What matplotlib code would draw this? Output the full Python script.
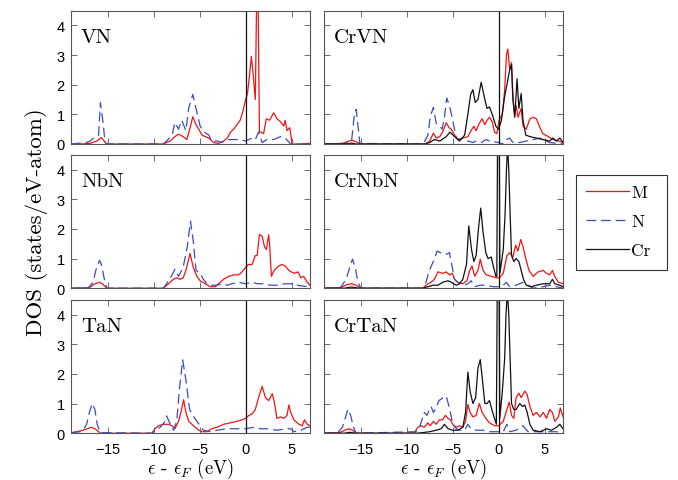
import matplotlib
matplotlib.use("Agg")
import matplotlib.pyplot as plt
from matplotlib.patches import Rectangle

plt.rcParams['lines.scale_dashes'] = False
plt.rcParams['mathtext.fontset'] = 'cm'
plt.rcParams['axes.formatter.use_mathtext'] = True

# ---------------- data (energy in eV, DOS in states/eV-atom) ----------------
vn_m_e = [-19, -18, -16.9, -16.2, -15.7, -15.4, -15.1, -9.0, -8.2, -7.7, -7.3, -6.8, -6.4, -6.0, -5.75, -5.4, -5.1,
          -4.75, -4.4, -4.0, -3.5, -2.95, -2.4, -2.0, -1.65, -1.3, -0.95, -0.6, -0.3, 0.0, 0.2, 0.45, 0.62, 0.8, 1.05,
          1.2, 1.35, 1.5, 1.65, 1.95, 2.25, 2.6, 3.05, 3.4, 3.8, 4.15, 4.3, 4.5, 4.8, 5.05, 6.0, 6.9, 7.0]
vn_m = [0, 0, 0.02, 0.1, 0.22, 0.1, 0, 0, 0.1, 0.25, 0.33, 0.25, 0.15, 0.6, 0.92, 0.65, 0.5,
        0.3, 0.25, 0.2, 0.05, 0.02, 0.1, 0.2, 0.4, 0.5, 0.65, 0.8, 1.1, 1.5, 1.7, 2.4, 2.95, 2.4, 1.5,
        5.0, 5.0, 0.4, 0.4, 0.35, 0.85, 0.8, 1.05, 0.85, 0.75, 0.6, 0.8, 0.45, 0.55, 0.0, 0.0, 0.02, 0.02]

vn_n_e = [-19, -17.3, -16.9, -16.4, -16.0, -15.8, -15.5, -15.3, -15.1, -8.95, -8.6, -8.0, -7.7, -7.3, -6.95, -6.5,
          -6.2, -5.75, -5.4, -4.95, -4.5, -4.0, -3.7, -3.1, -2.6, -2.0, -1.3, -0.6, 0.0, 0.7, 1.05, 1.4, 1.8, 2.3,
          3.05, 3.8, 4.3, 4.9, 7.0]
vn_n = [0, 0.05, 0.1, 0.25, 0.3, 1.39, 0.7, 0.05, 0, 0, 0.1, 0.3, 0.72, 0.5, 0.8, 0.45,
        1.2, 1.67, 1.2, 0.6, 0.4, 0.3, 0.1, 0.1, 0.05, 0.15, 0.15, 0.15, 0.1, 0.2, 0.15, 0.4, 0.05, 0.15,
        0.15, 0.25, 0.2, 0.0, 0.0]

nbn_m_e = [-19, -17.0, -16.4, -15.9, -15.6, -15.1, -8.95, -8.4, -7.85, -7.5, -7.1, -6.8, -6.5, -6.05, -5.7, -5.3,
           -4.95, -4.4, -3.85, -3.3, -2.95, -2.4, -1.85, -1.3, -0.75, -0.4, 0.0, 0.3, 0.7, 1.05, 1.25, 1.5, 1.8,
           2.05, 2.25, 2.5, 2.6, 2.8, 3.1, 3.6, 3.95, 4.3, 4.7, 5.25, 5.7, 6.0, 6.3, 6.7, 7.0]
nbn_m = [0, 0.02, 0.15, 0.2, 0.15, 0, 0, 0.15, 0.3, 0.35, 0.3, 0.35, 0.6, 1.17, 0.7, 0.4,
         0.25, 0.15, 0.05, 0.05, 0.15, 0.3, 0.4, 0.45, 0.45, 0.55, 0.7, 0.8, 0.8, 1.1, 1.1, 1.81, 1.75,
         1.4, 1.3, 1.8, 1.5, 0.4, 0.6, 0.75, 0.8, 0.75, 0.6, 0.5, 0.55, 0.35, 0.4, 0.2, 0.1]

nbn_n_e = [-19, -17.1, -16.6, -16.3, -15.9, -15.7, -15.3, -15.1, -8.95, -8.6, -8.0, -7.7, -7.3, -6.8, -6.35, -6.0,
           -5.7, -5.4, -4.95, -4.6, -4.2, -3.7, -3.1, -2.6, -2.0, -1.5, -0.75, 0.0, 0.7, 1.25, 1.95, 2.7, 3.6,
           4.3, 4.9, 5.6, 6.7, 7.0]
nbn_n = [0, 0.02, 0.2, 0.6, 0.94, 0.8, 0.2, 0, 0, 0.15, 0.45, 0.64, 0.4, 0.7, 1.4, 2.26,
         1.6, 0.6, 0.5, 0.3, 0.15, 0.1, 0.1, 0.15, 0.1, 0.15, 0.2, 0.15, 0.2, 0.15, 0.15, 0.1, 0.1,
         0.15, 0.15, 0.1, 0.05, 0.05]

tan_m_e = [-19, -18.8, -17.7, -16.8, -16.4, -16.0, -15.8, -10.2, -9.85, -9.5, -8.95, -8.4, -8.0, -7.7, -7.3, -7.05,
           -6.75, -6.5, -6.2, -5.85, -5.5, -5.1, -4.75, -4.2, -3.7, -3.1, -2.4, -1.65, -0.95, -0.4, 0.0, 0.35,
           0.7, 1.05, 1.4, 1.8, 2.15, 2.5, 2.9, 3.15, 3.4, 3.8, 4.15, 4.5, 4.7, 4.9, 5.25, 5.8, 6.15, 6.4, 6.7, 7.0]
tan_m = [0, 0.02, 0.1, 0.2, 0.15, 0.05, 0, 0, 0.15, 0.25, 0.3, 0.3, 0.25, 0.15, 0.4, 0.7,
         1.13, 0.7, 0.4, 0.3, 0.2, 0.1, 0.05, 0.05, 0.15, 0.2, 0.3, 0.35, 0.4, 0.45, 0.5, 0.6,
         0.65, 0.8, 1.2, 1.58, 1.2, 1.1, 1.33, 1.0, 0.5, 0.55, 0.5, 0.6, 0.95, 0.7, 0.45, 0.3, 0.25, 0.45, 0.3, 0.25]

tan_n_e = [-19, -18.0, -17.7, -17.3, -17.0, -16.7, -16.4, -16.15, -15.85, -10.2, -9.85, -9.3, -8.75, -8.6, -8.2,
           -7.85, -7.5, -7.2, -6.85, -6.5, -6.1, -5.75, -5.3, -4.95, -4.6, -3.85, -3.1, -2.0, -0.95, 0.0, 0.9,
           1.6, 2.3, 3.4, 4.5, 4.9, 5.25, 6.0, 6.7, 7.0]
tan_n = [0.02, 0.05, 0.1, 0.3, 0.7, 1.0, 0.8, 0.3, 0.02, 0, 0.1, 0.2, 0.4, 0.58, 0.3,
         0.1, 0.4, 1.5, 2.47, 1.8, 0.8, 0.6, 0.4, 0.25, 0.1, 0.05, 0.1, 0.15, 0.15, 0.15, 0.2,
         0.15, 0.15, 0.1, 0.15, 0.15, 0.05, 0.1, 0.2, 0.2]

crvn_m_e = [-19, -17.0, -16.3, -15.9, -15.3, -15.0, -8.0, -7.5, -7.1, -6.8, -6.4, -6.1, -5.7, -5.4, -5.15, -4.8,
            -4.45, -3.9, -3.35, -3.0, -2.7, -2.45, -2.1, -1.8, -1.5, -1.27, -1.0, -0.7, -0.45, -0.2, 0.05, 0.4,
            0.65, 0.85, 1.0, 1.2, 1.4, 1.55, 1.75, 1.9, 2.1, 2.45, 2.65, 3.0, 3.4, 3.75, 4.1, 4.5, 4.8, 5.4,
            5.9, 6.5, 7.0]
crvn_m = [0, 0.02, 0.1, 0.12, 0.05, 0, 0, 0.1, 0.37, 0.2, 0.25, 0.4, 0.72, 0.55, 0.5, 0.3,
          0.15, 0.2, 0.25, 0.45, 0.6, 0.45, 0.7, 0.85, 0.65, 0.8, 0.9, 0.75, 0.4, 0.35, 0.8, 1.0,
          1.8, 3.0, 3.2, 2.5, 2.75, 1.6, 0.95, 1.3, 0.9, 1.2, 0.6, 0.5, 0.85, 0.9, 0.85, 0.55, 0.35, 0.25,
          0.15, 0.1, 0.05]

crvn_n_e = [-19, -16.6, -16.0, -15.7, -15.5, -15.3, -15.1, -8.2, -7.7, -7.45, -7.1, -6.8, -6.4, -6.15, -5.9, -5.65,
            -5.35, -5.0, -4.6, -4.25, -3.9, -3.35, -2.8, -2.45, -1.9, -1.35, -1.0, 0.0, 0.5, 0.85, 1.2, 1.55,
            2.3, 3.0, 3.75, 4.5, 4.8, 5.55, 7.0]
crvn_n = [0, 0.02, 0.1, 1.0, 1.17, 0.6, 0.02, 0, 0.3, 0.9, 1.24, 0.7, 0.6, 0.5, 0.9, 1.55,
          1.3, 0.8, 0.2, 0.15, 0.2, 0.1, 0.05, 0.1, 0.05, 0.15, 0.1, 0.05, 0.0, 0.15, 0.2, 0.05,
          0.05, 0.1, 0.15, 0.2, 0.15, 0.05, 0.0]

crvn_cr_e = [-19, -16.5, -16.0, -15.5, -8.0, -7.5, -7.0, -6.4, -5.7, -5.3, -4.8, -4.25, -3.7, -3.35, -3.05, -2.8,
             -2.55, -2.25, -1.9, -1.5, -1.27, -1.0, -0.7, -0.3, 0.0, 0.3, 0.65, 0.9, 1.2, 1.4, 1.55, 1.75, 2.0,
             2.2, 2.45, 2.65, 2.95, 3.4, 4.1, 4.8, 5.55, 5.9, 6.3, 6.65, 7.0]
crvn_cr = [0, 0, 0.03, 0, 0, 0.05, 0.15, 0.1, 0.25, 0.4, 0.25, 0.1, 0.3, 1.0, 1.67, 1.83,
           1.4, 1.5, 2.08, 1.5, 1.2, 1.25, 1.0, 0.6, 0.5, 0.8, 1.6, 2.0, 2.5, 2.67, 1.5, 0.9, 2.2,
           1.2, 1.7, 0.8, 0.3, 0.25, 0.2, 0.15, 0.1, 0.2, 0.1, 0.2, 0.05]

crnbn_m_e = [-19, -17.2, -16.5, -16.0, -15.5, -15.0, -8.25, -7.7, -7.35, -7.0, -6.6, -6.1, -5.7, -5.35, -5.05, -4.8,
             -4.45, -3.9, -3.45, -3.15, -2.9, -2.6, -2.25, -2.0, -1.7, -1.35, -0.8, -0.25, 0.1, 0.5, 0.9, 1.2,
             1.55, 1.85, 2.1, 2.4, 2.65, 2.95, 3.3, 3.75, 4.3, 4.85, 5.2, 5.55, 5.85, 6.1, 6.5, 7.0]
crnbn_m = [0, 0.02, 0.12, 0.15, 0.1, 0, 0, 0.15, 0.2, 0.3, 0.55, 0.5, 0.55, 0.45, 0.5, 0.3,
           0.2, 0.15, 0.25, 0.6, 0.75, 0.4, 0.6, 0.98, 0.6, 0.45, 0.4, 0.35, 0.35, 0.5, 1.1, 1.2,
           1.05, 1.45, 1.25, 1.64, 1.4, 1.0, 0.6, 0.4, 0.55, 0.6, 0.5, 0.45, 0.6, 0.4, 0.2, 0.15]

crnbn_n_e = [-19, -17.2, -16.6, -16.2, -15.9, -15.6, -15.3, -15.0, -8.2, -7.9, -7.6, -7.25, -7.0, -6.7, -6.35, -6.1,
             -5.65, -5.35, -5.05, -4.8, -4.45, -4.1, -3.7, -3.35, -3.0, -2.6, -2.05, -1.35, -0.6, 0.0, 0.5, 0.85,
             1.2, 1.9, 2.65, 3.2, 3.75, 4.85, 5.55, 6.3, 7.0]
crnbn_n = [0, 0.02, 0.3, 0.7, 0.98, 0.7, 0.2, 0, 0, 0.2, 0.55, 0.8, 0.98, 1.25, 1.2, 1.15,
           1.15, 1.2, 0.7, 0.3, 0.2, 0.15, 0.1, 0.15, 0.25, 0.05, 0.1, 0.1, 0.05, 0.05, 0.1, 0.2,
           0.05, 0.1, 0.2, 0.1, 0.0, 0.05, 0.1, 0.05, 0.0]

crnbn_cr_e = [-19, -16.8, -16.0, -15.2, -8.25, -7.7, -7.15, -6.6, -6.1, -5.5, -5.15, -4.6, -4.25, -3.9, -3.5, -3.25,
              -2.95, -2.7, -2.45, -2.2, -1.95, -1.7, -1.4, -1.15, -0.8, -0.55, -0.3, -0.2, -0.12, 0.07, 0.13, 0.5,
              0.7, 0.85, 0.98, 1.1, 1.25, 1.4, 1.65, 1.9, 2.2, 2.45, 2.7, 3.0, 3.55, 4.1, 4.85, 5.55, 5.85, 6.1,
              6.65, 7.0]
crnbn_cr = [0, 0, 0.04, 0, 0, 0.05, 0.1, 0.1, 0.2, 0.25, 0.2, 0.1, 0.15, 0.3, 0.8, 2.1,
            1.3, 0.9, 1.1, 2.0, 2.7, 1.9, 1.2, 1.0, 1.05, 0.7, 0.4, 0.4, 5.0, 5.0, 0.5, 1.3,
            2.5, 4.0, 4.8, 4.0, 2.5, 1.1, 0.9, 1.0, 0.9, 0.6, 0.3, 0.1, 0.05, 0.1, 0.15, 0.15, 0.3, 0.15,
            0.1, 0.05]

crtan_m_e = [-19, -17.3, -16.6, -16.3, -15.9, -15.5, -9.2, -8.8, -8.45, -8.1, -7.7, -7.45, -7.1, -6.8, -6.45, -6.1,
             -5.8, -5.5, -5.25, -5.0, -4.6, -4.25, -3.9, -3.6, -3.35, -3.1, -2.8, -2.45, -2.1, -1.8, -1.4, -1.0,
             -0.45, 0.0, 0.5, 0.85, 1.15, 1.4, 1.65, 1.9, 2.2, 2.45, 2.85, 3.1, 3.4, 3.75, 4.1, 4.5, 4.85, 5.2,
             5.55, 5.85, 6.1, 6.5, 6.7, 7.0]
crtan_m = [0, 0.02, 0.12, 0.15, 0.1, 0, 0, 0.2, 0.25, 0.2, 0.35, 0.25, 0.4, 0.3, 0.45, 0.45,
           0.6, 0.5, 0.45, 0.3, 0.2, 0.25, 0.2, 0.4, 0.97, 0.7, 0.55, 0.6, 1.0, 0.7, 0.5, 0.35,
           0.25, 0.25, 0.4, 0.75, 1.05, 0.6, 0.5, 1.2, 1.35, 1.2, 1.42, 1.3, 0.9, 0.6, 0.7, 0.55, 0.7, 0.5,
           0.8, 0.7, 0.4, 0.55, 0.85, 0.55]

crtan_n_e = [-19, -17.5, -17.0, -16.6, -16.4, -16.1, -15.8, -15.5, -9.0, -8.6, -8.3, -8.1, -7.8, -7.6, -7.35, -7.1,
             -6.8, -6.5, -6.25, -6.0, -5.7, -5.4, -5.15, -5.0, -4.6, -4.25, -3.7, -3.35, -3.0, -2.45, -1.7, -1.0,
             -0.25, 0.5, 0.9, 1.2, 1.9, 2.65, 3.2, 4.1, 5.2, 6.3, 7.0]
crtan_n = [0, 0.02, 0.2, 0.6, 0.81, 0.6, 0.2, 0, 0.05, 0.2, 0.5, 0.7, 0.6, 0.75, 0.9, 0.7,
           0.85, 1.1, 1.15, 1.21, 1.25, 0.9, 0.55, 0.3, 0.15, 0.1, 0.1, 0.3, 0.15, 0.1, 0.1, 0.05,
           0.05, 0.05, 0.3, 0.05, 0.1, 0.25, 0.05, 0.05, 0.05, 0.05, 0.0]

crtan_cr_e = [-19, -16.8, -16.2, -15.6, -9.0, -8.25, -7.5, -6.8, -6.25, -5.9, -5.5, -5.0, -4.45, -3.9, -3.6, -3.35,
              -3.1, -2.8, -2.5, -2.25, -2.0, -1.8, -1.5, -1.27, -1.0, -0.7, -0.45, -0.25, -0.15, 0.05, 0.12, 0.4,
              0.65, 0.8, 0.95, 1.1, 1.25, 1.4, 1.65, 1.9, 2.3, 2.6, 2.85, 3.1, 3.4, 3.75, 4.5, 5.2, 5.75, 6.3,
              6.65, 7.0]
crtan_cr = [0, 0, 0.03, 0, 0, 0.02, 0.05, 0.1, 0.15, 0.3, 0.15, 0.1, 0.1, 0.2, 0.7, 2.06,
            1.4, 1.0, 1.2, 2.2, 2.48, 1.9, 1.0, 1.0, 1.1, 0.75, 0.5, 0.3, 5.0, 5.0, 0.5, 1.4,
            2.5, 4.0, 4.8, 4.0, 2.5, 1.0, 0.8, 0.8, 1.0, 0.9, 0.95, 0.7, 0.3, 0.1, 0.05, 0.15, 0.1, 0.2,
            0.3, 0.15]

panel_names = [["VN", "CrVN"], ["NbN", "CrNbN"], ["TaN", "CrTaN"]]
legend_labels = ["M", "N", "Cr"]
x_ticks = [-15, -10, -5, 0, 5]
y_ticks = [0, 1, 2, 3, 4]

series = {
    "VN": [(vn_m_e, vn_m), (vn_n_e, vn_n), None],
    "NbN": [(nbn_m_e, nbn_m), (nbn_n_e, nbn_n), None],
    "TaN": [(tan_m_e, tan_m), (tan_n_e, tan_n), None],
    "CrVN": [(crvn_m_e, crvn_m), (crvn_n_e, crvn_n), (crvn_cr_e, crvn_cr)],
    "CrNbN": [(crnbn_m_e, crnbn_m), (crnbn_n_e, crnbn_n), (crnbn_cr_e, crnbn_cr)],
    "CrTaN": [(crtan_m_e, crtan_m), (crtan_n_e, crtan_n), (crtan_cr_e, crtan_cr)],
}

# ---------------- styling ----------------
W, H = 678, 481
RED = '#f01414'
BLUE = '#3a4cc0'
BLACK = '#111111'
SPINE = '#555555'
TEXTFONT = 'cmr10'
TICKFONT = 'Liberation Sans'

fig = plt.figure(figsize=(W / 100, H / 100), dpi=100)

col_left = [71, 324]
col_w = 239
row_top = [11.5, 155.7, 300.7]
row_h = 133.5

last_lines = None
for r in range(3):
    for c in range(2):
        name = panel_names[r][c]
        ax = fig.add_axes([col_left[c] / W, 1 - (row_top[r] + row_h) / H, col_w / W, row_h / H])
        m, n, cr = series[name]
        lm, = ax.plot(m[0], m[1], color=RED, lw=0.9)
        ln, = ax.plot(n[0], n[1], color=BLUE, lw=0.9, dashes=(7, 3.5))
        lines = [lm, ln]
        if cr is not None:
            lc, = ax.plot(cr[0], cr[1], color=BLACK, lw=0.9)
            lines.append(lc)
            last_lines = lines
        ax.axvline(0, color=BLACK, lw=0.9)
        ax.set_xlim(-19, 7)
        ax.set_ylim(0, 4.5)
        ax.set_xticks(x_ticks)
        ax.set_yticks(y_ticks)
        ax.tick_params(direction='in', top=True, right=True, length=4, width=0.6,
                       color=SPINE, labelsize=10.5)
        ax.tick_params(axis='x', pad=6.5)
        ax.tick_params(axis='y', pad=4)
        for s in ax.spines.values():
            s.set_color(SPINE)
            s.set_linewidth(0.8)
        for lab in ax.get_xticklabels() + ax.get_yticklabels():
            lab.set_fontfamily(TICKFONT)
        if c == 1:
            ax.set_yticklabels([])
        if r < 2:
            ax.set_xticklabels([])
        else:
            ax.set_xlabel(r'$\epsilon$ - $\epsilon_F$ (eV)', fontfamily=TEXTFONT, fontsize=13.5, labelpad=0)
        ax.text(10 / col_w, (row_h - 31.5) / row_h, name, transform=ax.transAxes,
                fontfamily=TEXTFONT, fontsize=15, va='baseline', ha='left')

fig.text(37 / W, 1 - 222 / H, 'DOS (states/eV-atom)', rotation=90, ha='center', va='center',
         fontfamily=TEXTFONT, fontsize=16.5)

# legend frame drawn as a figure rectangle, entries placed inside it
fig.patches.append(Rectangle((576 / W, 1 - 271 / H), 91 / W, 95 / H, transform=fig.transFigure,
                             fill=False, edgecolor='#333333', linewidth=0.8))
leg = fig.legend(last_lines, legend_labels, loc='center left',
                 bbox_to_anchor=(586 / W, 1 - 222.5 / H),
                 prop={'family': TEXTFONT, 'size': 12.5}, frameon=False,
                 handlelength=2.5, handletextpad=0.12, labelspacing=0.8, borderpad=0,
                 borderaxespad=0)

fig.savefig('out.png', dpi=100)
